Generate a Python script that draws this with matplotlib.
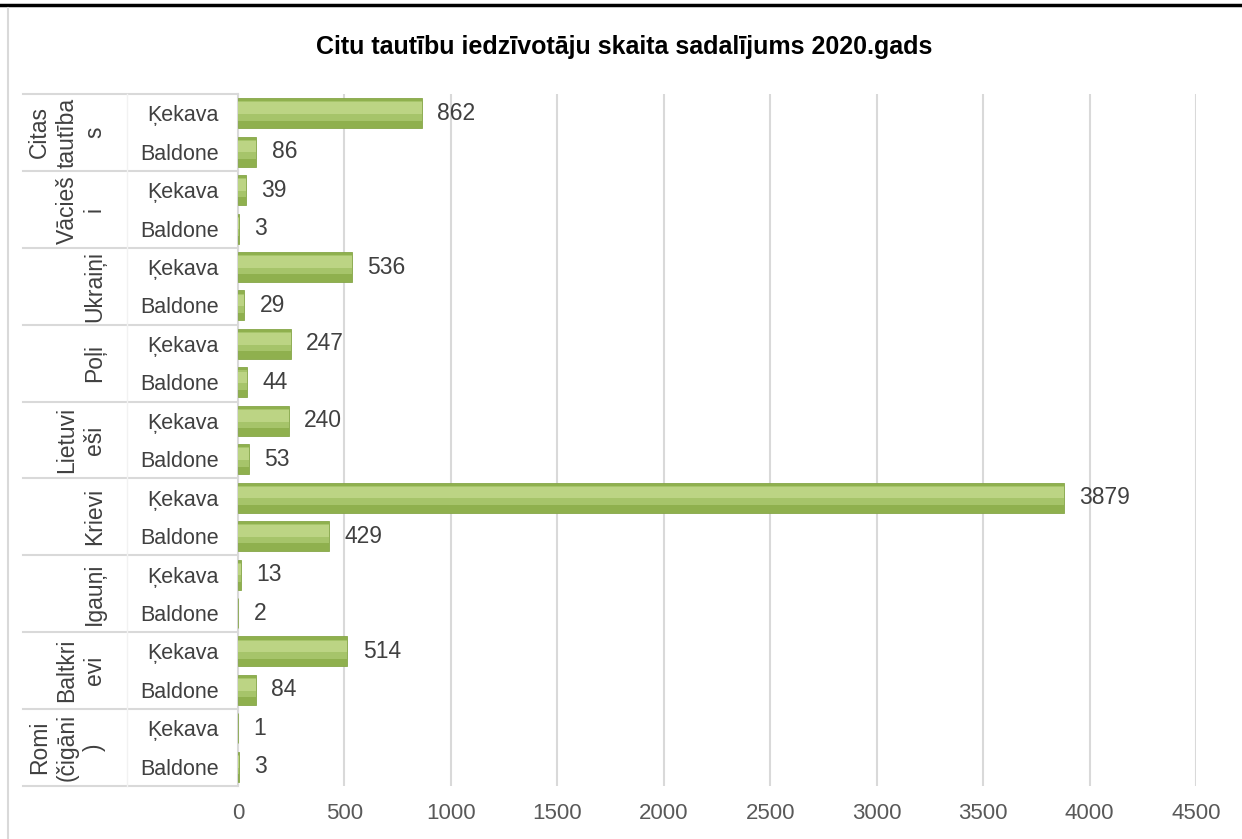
import numpy as np
import matplotlib.pyplot as plt
from matplotlib.transforms import blended_transform_factory

plt.rcParams['font.family'] = ['Liberation Sans', 'DejaVu Sans']

# data (top to bottom as in the chart)
groups = ['Citas tautības', 'Vācieši', 'Ukraiņi', 'Poļi', 'Lietuvieši',
          'Krievi', 'Igauņi', 'Baltkrievi', 'Romi (čigāni)']
group_labels = ['Citas\ntautība\ns', 'Vācieš\ni', 'Ukraiņi', 'Poļi', 'Lietuvi\neši',
                'Krievi', 'Igauņi', 'Baltkri\nevi', 'Romi\n(čigāni\n)']
places = ['Ķekava', 'Baldone']
kekava = [862, 39, 536, 247, 240, 3879, 13, 514, 1]
baldone = [86, 3, 29, 44, 53, 429, 2, 84, 3]

values = []
row_names = []
for k, b in zip(kekava, baldone):
    values += [k, b]
    row_names += places
y = np.arange(len(values))

W, H = 1242, 839
fig = plt.figure(figsize=(W / 100, H / 100), dpi=100)
ax = fig.add_axes([238 / W, 1 - 786 / H, (1196 - 238) / W, (786 - 94) / H])

# bars: base + light highlight to mimic the bevelled Excel look
ax.barh(y, values, height=0.78, color='#8FB04E', edgecolor='#86A648', linewidth=0.6, zorder=3)
ax.barh(y - 0.06, values, height=0.5, color='#A6C46A', linewidth=0, zorder=4)
ax.barh(y - 0.13, values, height=0.3, color='#BCD484', linewidth=0, zorder=4)

for yi, v in zip(y, values):
    ax.annotate(str(v), (v, yi), xytext=(11, 0), textcoords='offset points',
                va='center', ha='left', fontsize=16.5, color='#404040', zorder=5)

ax.set_xlim(0, 4500)
ax.set_ylim(len(values) - 0.5, -0.5)
ax.set_xticks(np.arange(0, 4501, 500))
ax.tick_params(axis='x', length=0, pad=12, labelsize=16, labelcolor='#595959')
ax.set_yticks(y)
ax.set_yticklabels(row_names)
ax.tick_params(axis='y', length=0, pad=14, labelsize=15.5, labelcolor='#404040')
ax.grid(axis='x', color='#D9D9D9', linewidth=1.5, zorder=0)
ax.set_axisbelow(True)
for s in ['top', 'right', 'bottom']:
    ax.spines[s].set_visible(False)
ax.spines['left'].set_color('#D9D9D9')
ax.spines['left'].set_linewidth(1.5)

# group labels and separators in the label area
tr = blended_transform_factory(ax.transAxes, ax.transData)
x_left = (23 - 238) / (1196 - 238)
x_mid = (127 - 238) / (1196 - 238)
x_text = (106 - 238) / (1196 - 238)
for i, lab in enumerate(group_labels):
    ax.text(x_text, 2 * i + 0.5, lab, transform=tr, rotation=90, ha='right', va='center',
            multialignment='center', fontsize=16.5, color='#404040', linespacing=1.25)
for j in range(len(groups) + 1):
    ax.plot([x_left, 0], [2 * j - 0.5] * 2, transform=tr, color='#D9D9D9', lw=1.5, clip_on=False)
ax.plot([x_mid, x_mid], [-0.5, len(values) - 0.5], transform=tr, color='#F2F2F2', lw=1.0,
        clip_on=False)

fig.text(624 / W, 1 - 47 / H, 'Citu tautību iedzīvotāju skaita sadalījums 2020.gads',
         ha='center', va='center', fontsize=18, fontweight='bold', color='black')

# page decorations: black rule at top and chart frame on the left
fig.add_artist(plt.Line2D([0, 1], [1 - 5 / H] * 2, color='black', lw=2.5))
fig.add_artist(plt.Line2D([8 / W] * 2, [0, 1 - 8 / H], color='#D9D9D9', lw=1.5))

fig.savefig('out.png', dpi=100)
